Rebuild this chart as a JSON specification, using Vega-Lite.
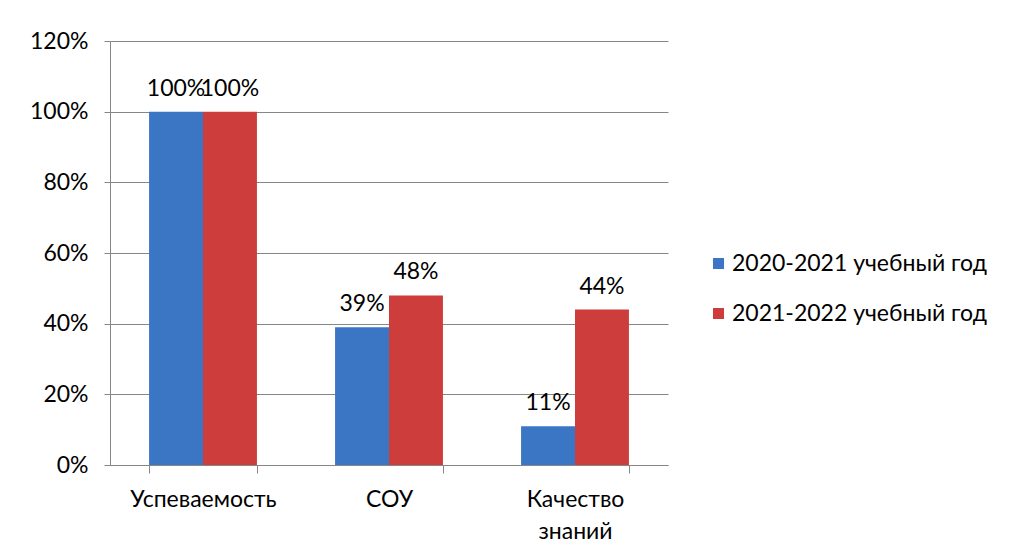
{
  "$schema": "https://vega.github.io/schema/vega-lite/v6.json",
  "autosize": "none",
  "width": 558,
  "height": 424,
  "padding": {"left": 110, "top": 41, "right": 348, "bottom": 92},
  "background": "white",
  "config": {
    "font": "Lato",
    "view": {"stroke": null},
    "axis": {"labelFont": "Lato", "labelColor": "#000000", "labelFontSize": 23}
  },
  "data": {
    "values": [
      {"cat": "Успеваемость", "year": "2020-2021 учебный год", "v": 1.00, "lbl": "100%"},
      {"cat": "Успеваемость", "year": "2021-2022 учебный год", "v": 1.00, "lbl": "100%"},
      {"cat": "СОУ", "year": "2020-2021 учебный год", "v": 0.39, "lbl": "39%"},
      {"cat": "СОУ", "year": "2021-2022 учебный год", "v": 0.48, "lbl": "48%"},
      {"cat": "Качество знаний", "year": "2020-2021 учебный год", "v": 0.11, "lbl": "11%"},
      {"cat": "Качество знаний", "year": "2021-2022 учебный год", "v": 0.44, "lbl": "44%"}
    ]
  },
  "encoding": {
    "x": {
      "field": "cat", "type": "nominal", "sort": null, "title": null,
      "scale": {"paddingInner": 0.42, "paddingOuter": 0.21},
      "axis": {
        "labelAngle": 0, "domainColor": "#868686", "tickColor": "#868686",
        "tickBand": "extent", "tickSize": 8, "labelPadding": 15,
        "labelLineHeight": 32, "labelBaseline": "top",
        "labelExpr": "datum.label == 'Качество знаний' ? ['Качество', 'знаний'] : datum.label"
      }
    },
    "xOffset": {"field": "year", "type": "nominal", "sort": null, "scale": {"paddingInner": 0, "paddingOuter": 0}},
    "y": {
      "field": "v", "type": "quantitative", "title": null,
      "scale": {"domain": [0, 1.2], "nice": false},
      "axis": {
        "format": ".0%", "values": [0, 0.2, 0.4, 0.6, 0.8, 1.0, 1.2],
        "gridColor": "#868686", "domainColor": "#868686", "tickColor": "#868686",
        "tickSize": 6, "labelPadding": 16
      }
    }
  },
  "layer": [
    {
      "mark": {"type": "bar", "stroke": null},
      "encoding": {
        "color": {
          "field": "year", "type": "nominal", "sort": null,
          "scale": {"range": ["#3b76c4", "#cc3d3b"]},
          "legend": {
            "title": null, "orient": "none", "legendX": 597, "legendY": 211,
            "symbolType": "square", "symbolSize": 121, "symbolStrokeWidth": 0,
            "labelFontSize": 23, "labelFont": "Lato", "labelColor": "#000000",
            "labelLimit": 400, "rowPadding": 26, "labelOffset": 2
          }
        }
      }
    },
    {
      "mark": {"type": "text", "baseline": "bottom", "dy": -11, "fontSize": 23, "font": "Lato", "color": "#000000"},
      "encoding": {"text": {"field": "lbl"}}
    }
  ]
}
